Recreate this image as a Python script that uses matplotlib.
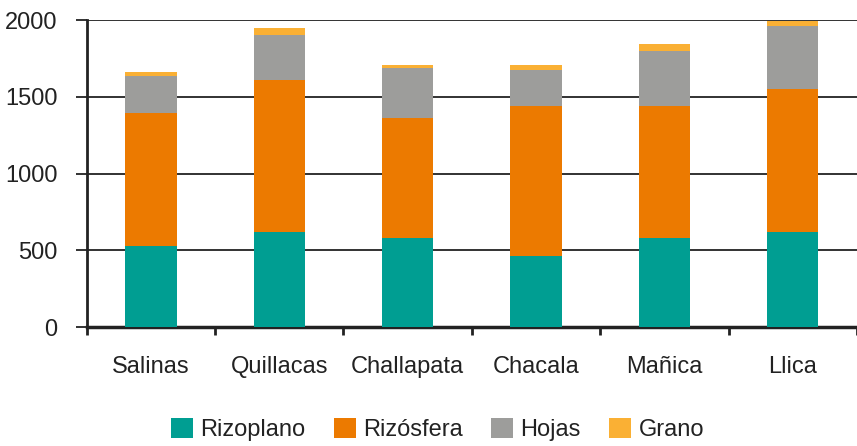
import matplotlib
matplotlib.use("Agg")
import matplotlib.pyplot as plt
import numpy as np

# ─── Data ────────────────────────────────────────────────────────────────────
categories = ["Salinas", "Quillacas", "Challapata", "Chacala", "Mañica", "Llica"]
rizoplano = [528, 620, 580, 463, 580, 620]
rizosfera = [864, 989, 783, 977, 860, 929]
hojas = [243, 294, 326, 234, 358, 414]
grano = [26, 43, 18, 33, 46, 31]

series_names = ["Rizoplano", "Rizósfera", "Hojas", "Grano"]
colors = ["#009E92", "#EC7A00", "#9D9D9B", "#FAB034"]
yticks = [0, 500, 1000, 1500, 2000]

plt.rcParams["font.family"] = ["Liberation Sans", "DejaVu Sans"]
plt.rcParams["font.size"] = 17

fig = plt.figure(figsize=(8.57, 4.46), dpi=100)
ax = fig.add_axes([0.1012, 0.2668, 0.8988, 0.6883])

x = np.arange(len(categories))
bottom = np.zeros(len(categories))
for name, vals, col in zip(series_names, [rizoplano, rizosfera, hojas, grano], colors):
    ax.bar(x, vals, 0.4, bottom=bottom, color=col, label=name, zorder=3)
    bottom += np.array(vals)

ax.set_xlim(-0.5, len(categories) - 0.5)
ax.set_ylim(0, 2000)
ax.set_yticks(yticks)
ax.yaxis.grid(True, color="#222222", linewidth=1.3, zorder=0)
ax.set_axisbelow(True)

ax.set_xticks(x)
ax.set_xticklabels(categories)
ax.set_xticks(np.arange(-0.5, len(categories)), minor=True)
ax.tick_params(axis="x", which="major", length=0, pad=21, colors="#222222")
ax.tick_params(axis="x", which="minor", length=6, width=2, direction="out", color="#222222")
ax.tick_params(axis="y", length=8, width=1.3, pad=13, color="#222222", labelcolor="#222222")

for s in ["top", "right"]:
    ax.spines[s].set_visible(False)
ax.spines["left"].set_linewidth(2)
ax.spines["left"].set_color("#222222")
ax.spines["bottom"].set_linewidth(2.5)
ax.spines["bottom"].set_color("#222222")

fig.legend(loc="center", bbox_to_anchor=(0.5105, 0.037), ncol=4, frameon=False,
           borderaxespad=0, borderpad=0,
           handlelength=0.92, handleheight=0.92, handletextpad=0.32, columnspacing=1.2,
           fontsize=17, labelcolor="#222222")

plt.savefig("out.png", dpi=100)
plt.close()
